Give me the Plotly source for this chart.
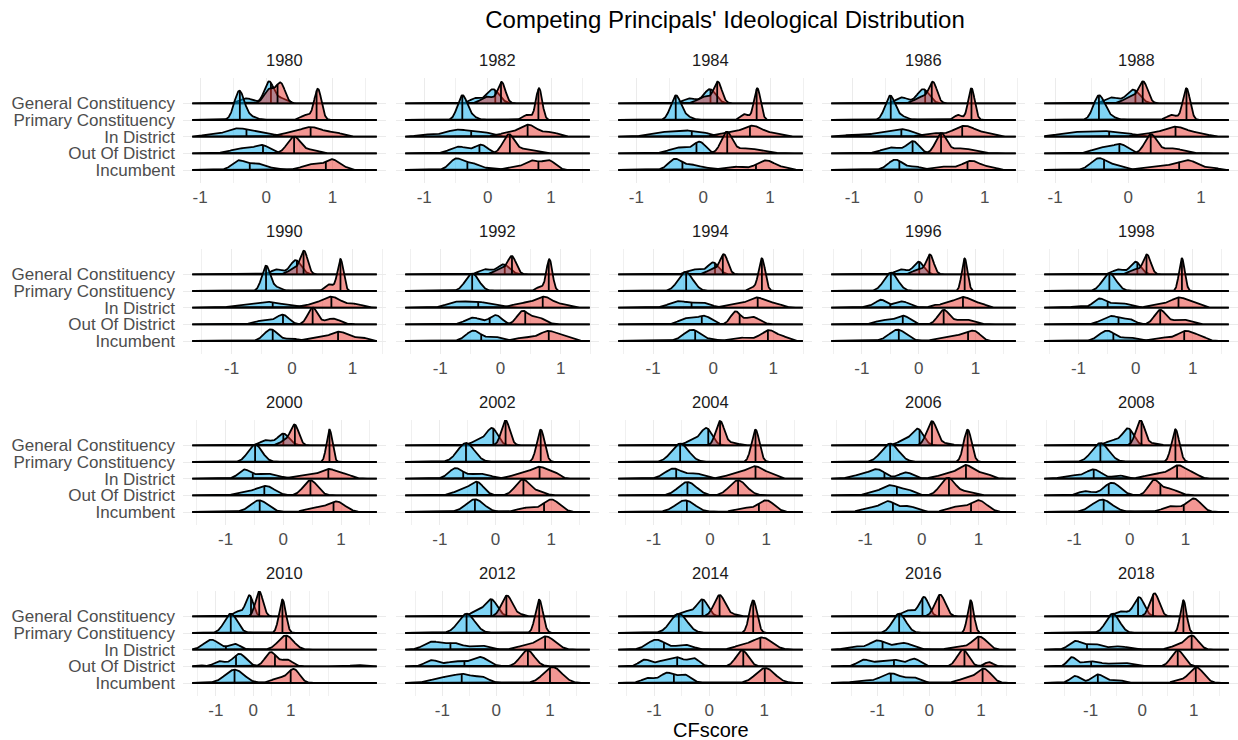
import numpy as np
import plotly.graph_objects as go

# ---------------------------------------------------------------- data
years = [1980, 1982, 1984, 1986, 1988, 1990, 1992, 1994, 1996, 1998,
         2000, 2002, 2004, 2006, 2008, 2010, 2012, 2014, 2016, 2018]

categories = ["General Constituency", "Primary Constituency", "In District",
              "Out Of District", "Incumbent"]

# CFscore span covered by the ridges in each year's panel
x_extent = [(-1.12, 1.67), (-1.30, 1.61), (-1.27, 1.49), (-1.32, 1.47), (-1.15, 1.38),
            (-1.65, 1.40), (-1.58, 1.48), (-1.58, 1.49), (-1.54, 1.71), (-1.60, 1.63),
            (-1.58, 1.62), (-1.62, 1.69), (-1.63, 1.65), (-1.60, 1.66), (-1.54, 1.78),
            (-1.63, 3.30), (-1.69, 1.74), (-1.65, 1.70), (-1.89, 1.67), (-1.90, 1.68)]

# Density bumps per year: (centre, spread, height in ridge units)
general_dem = [
    [(-0.3, 0.1, 0.3), (0.04, 0.07, 1.3), (0.22, 0.08, 0.3)],
    [(-0.2, 0.08, 0.3), (0.08, 0.1, 0.85)],
    [(-0.2, 0.09, 0.3), (0.1, 0.09, 0.85)],
    [(-0.25, 0.09, 0.35), (0.07, 0.09, 0.85)],
    [(-0.22, 0.09, 0.35), (0.07, 0.09, 0.82)],
    [(-0.25, 0.09, 0.3), (0.06, 0.09, 0.85)],
    [(-0.25, 0.1, 0.3), (0.05, 0.1, 0.6)],
    [(-0.3, 0.12, 0.3), (0.0, 0.09, 0.7)],
    [(-0.3, 0.1, 0.3), (0.0, 0.09, 0.75)],
    [(-0.3, 0.1, 0.3), (0.0, 0.09, 0.75)],
    [(-0.3, 0.1, 0.3), (0.0, 0.1, 0.7)],
    [(-0.3, 0.12, 0.3), (-0.06, 0.1, 1.0)],
    [(-0.3, 0.12, 0.3), (-0.06, 0.1, 1.0)],
    [(-0.3, 0.12, 0.3), (-0.07, 0.1, 0.95)],
    [(-0.3, 0.12, 0.3), (-0.03, 0.1, 1.0)],
    [(-0.4, 0.12, 0.3), (-0.1, 0.1, 1.25)],
    [(-0.35, 0.12, 0.3), (-0.09, 0.11, 1.0)],
    [(-0.4, 0.12, 0.3), (-0.12, 0.1, 1.0)],
    [(-0.4, 0.12, 0.35), (-0.1, 0.09, 1.15)],
    [(-0.4, 0.12, 0.3), (-0.06, 0.1, 1.15)],
]
general_rep = [
    [(0.05, 0.08, 0.85), (0.22, 0.065, 1.15)],
    [(0.0, 0.1, 0.4), (0.22, 0.06, 1.25)],
    [(0.02, 0.1, 0.4), (0.22, 0.06, 1.25)],
    [(0.05, 0.1, 0.4), (0.22, 0.06, 1.2)],
    [(0.05, 0.1, 0.4), (0.21, 0.06, 1.2)],
    [(0.05, 0.1, 0.35), (0.2, 0.06, 1.3)],
    [(0.0, 0.1, 0.3), (0.19, 0.07, 1.05)],
    [(0.0, 0.1, 0.3), (0.18, 0.065, 1.15)],
    [(0.0, 0.1, 0.3), (0.2, 0.065, 1.15)],
    [(0.0, 0.1, 0.3), (0.2, 0.065, 1.15)],
    [(0.05, 0.1, 0.3), (0.2, 0.07, 1.15)],
    [(0.18, 0.075, 1.5)],
    [(0.18, 0.075, 1.45), (0.4, 0.1, 0.15)],
    [(0.18, 0.09, 1.45), (0.45, 0.08, 0.1)],
    [(0.19, 0.08, 1.5), (0.45, 0.08, 0.12)],
    [(0.16, 0.1, 1.5)],
    [(0.2, 0.1, 1.25), (0.45, 0.08, 0.1)],
    [(0.19, 0.1, 1.28), (0.45, 0.08, 0.1)],
    [(0.21, 0.1, 1.3)],
    [(0.24, 0.09, 1.38)],
]
primary_dem = [
    [(-0.41, 0.075, 1.7), (-0.25, 0.1, 0.2)],
    [(-0.4, 0.075, 1.45), (-0.25, 0.08, 0.2)],
    [(-0.41, 0.075, 1.45), (-0.25, 0.08, 0.2)],
    [(-0.43, 0.075, 1.45), (-0.25, 0.08, 0.2)],
    [(-0.4, 0.075, 1.45), (-0.25, 0.08, 0.2)],
    [(-0.43, 0.07, 1.5), (-0.25, 0.08, 0.2)],
    [(-0.47, 0.11, 1.05)],
    [(-0.46, 0.12, 1.15)],
    [(-0.49, 0.12, 1.1)],
    [(-0.46, 0.12, 1.05)],
    [(-0.49, 0.12, 1.05)],
    [(-0.53, 0.15, 1.14)],
    [(-0.53, 0.15, 1.1)],
    [(-0.56, 0.15, 1.1)],
    [(-0.53, 0.15, 1.14)],
    [(-0.6, 0.17, 1.16)],
    [(-0.55, 0.15, 1.16)],
    [(-0.55, 0.15, 1.16)],
    [(-0.58, 0.13, 1.16)],
    [(-0.57, 0.13, 1.16)],
]
primary_rep = [
    [(0.78, 0.055, 1.85), (0.6, 0.08, 0.3)],
    [(0.81, 0.05, 1.9), (0.62, 0.07, 0.3)],
    [(0.81, 0.05, 1.9), (0.62, 0.06, 0.35)],
    [(0.8, 0.05, 1.9), (0.6, 0.06, 0.3)],
    [(0.8, 0.05, 1.9), (0.6, 0.07, 0.3)],
    [(0.8, 0.05, 1.9), (0.62, 0.07, 0.4)],
    [(0.81, 0.05, 1.9), (0.65, 0.06, 0.25)],
    [(0.81, 0.055, 1.95), (0.65, 0.06, 0.2)],
    [(0.81, 0.05, 1.95)],
    [(0.81, 0.05, 1.95)],
    [(0.8, 0.05, 1.95)],
    [(0.81, 0.07, 1.94)],
    [(0.81, 0.07, 1.94)],
    [(0.81, 0.07, 1.94)],
    [(0.82, 0.07, 1.96)],
    [(0.78, 0.09, 2.0)],
    [(0.8, 0.07, 2.0)],
    [(0.8, 0.07, 1.96)],
    [(0.8, 0.06, 1.96)],
    [(0.8, 0.06, 1.96)],
]
in_district_dem = [
    [(-0.9, 0.1, 0.08), (-0.42, 0.2, 0.5), (-0.02, 0.13, 0.2)],
    [(-1.0, 0.12, 0.12), (-0.45, 0.22, 0.42), (-0.05, 0.12, 0.2)],
    [(-0.7, 0.15, 0.2), (-0.3, 0.2, 0.38), (0.0, 0.1, 0.15)],
    [(-1.0, 0.15, 0.1), (-0.5, 0.2, 0.25), (-0.22, 0.15, 0.35)],
    [(-0.75, 0.2, 0.25), (-0.35, 0.18, 0.32), (0.0, 0.12, 0.15)],
    [(-0.85, 0.15, 0.15), (-0.43, 0.18, 0.35), (-0.05, 0.15, 0.15)],
    [(-0.75, 0.15, 0.3), (-0.4, 0.18, 0.35), (-0.05, 0.12, 0.15)],
    [(-0.58, 0.15, 0.38), (-0.2, 0.15, 0.3)],
    [(-0.85, 0.1, 0.1), (-0.66, 0.09, 0.45), (-0.3, 0.13, 0.38)],
    [(-1.0, 0.1, 0.1), (-0.64, 0.1, 0.5), (-0.3, 0.18, 0.3)],
    [(-0.68, 0.1, 0.5), (-0.3, 0.2, 0.3)],
    [(-0.72, 0.12, 0.6), (-0.3, 0.2, 0.3)],
    [(-0.65, 0.15, 0.6), (-0.25, 0.15, 0.3)],
    [(-1.1, 0.15, 0.2), (-0.79, 0.14, 0.55), (-0.28, 0.12, 0.38)],
    [(-1.05, 0.15, 0.2), (-0.65, 0.14, 0.55), (-0.2, 0.1, 0.2)],
    [(-1.12, 0.2, 0.6), (-0.5, 0.15, 0.35)],
    [(-1.2, 0.15, 0.45), (-0.8, 0.18, 0.4), (-0.3, 0.15, 0.25)],
    [(-0.96, 0.16, 0.6), (-0.45, 0.15, 0.3)],
    [(-1.45, 0.15, 0.2), (-1.0, 0.15, 0.55), (-0.5, 0.18, 0.4)],
    [(-1.3, 0.12, 0.5), (-0.95, 0.15, 0.35), (-0.45, 0.18, 0.2)],
]
in_district_rep = [
    [(0.3, 0.12, 0.15), (0.67, 0.18, 0.58), (1.05, 0.12, 0.2)],
    [(0.3, 0.15, 0.2), (0.64, 0.14, 0.7), (1.0, 0.12, 0.25)],
    [(0.35, 0.15, 0.2), (0.74, 0.16, 0.65), (1.1, 0.1, 0.15)],
    [(0.2, 0.15, 0.2), (0.7, 0.17, 0.65), (1.05, 0.1, 0.15)],
    [(0.25, 0.15, 0.15), (0.65, 0.17, 0.6), (1.0, 0.1, 0.15)],
    [(0.3, 0.15, 0.15), (0.65, 0.16, 0.65), (1.05, 0.12, 0.2)],
    [(0.35, 0.15, 0.25), (0.72, 0.15, 0.65), (1.05, 0.1, 0.15)],
    [(0.35, 0.15, 0.2), (0.73, 0.15, 0.6), (1.05, 0.1, 0.2)],
    [(0.25, 0.05, 0.1), (0.5, 0.15, 0.25), (0.8, 0.14, 0.6), (1.1, 0.1, 0.2)],
    [(0.4, 0.15, 0.2), (0.77, 0.15, 0.6), (1.05, 0.1, 0.2)],
    [(0.4, 0.2, 0.2), (0.8, 0.15, 0.55), (1.1, 0.1, 0.2)],
    [(0.5, 0.2, 0.3), (0.8, 0.14, 0.6), (1.05, 0.1, 0.3)],
    [(0.5, 0.2, 0.3), (0.82, 0.15, 0.65), (1.1, 0.1, 0.2)],
    [(0.5, 0.2, 0.3), (0.79, 0.13, 0.7), (1.1, 0.12, 0.3)],
    [(0.5, 0.2, 0.3), (0.88, 0.14, 0.75), (1.15, 0.1, 0.25)],
    [(0.87, 0.2, 0.85)],
    [(0.5, 0.15, 0.2), (0.92, 0.17, 0.8)],
    [(0.6, 0.15, 0.25), (0.97, 0.17, 0.72)],
    [(0.55, 0.15, 0.2), (0.97, 0.14, 0.78)],
    [(0.7, 0.15, 0.25), (0.97, 0.12, 0.8)],
]
out_district_dem = [
    [(-0.35, 0.18, 0.3), (-0.05, 0.11, 0.42)],
    [(-0.45, 0.14, 0.4), (-0.1, 0.1, 0.5)],
    [(-0.35, 0.15, 0.35), (-0.05, 0.09, 0.65)],
    [(-0.4, 0.15, 0.35), (-0.08, 0.09, 0.7)],
    [(-0.35, 0.13, 0.35), (-0.1, 0.1, 0.5)],
    [(-0.45, 0.15, 0.25), (-0.15, 0.1, 0.55)],
    [(-0.45, 0.13, 0.4), (-0.08, 0.1, 0.55)],
    [(-0.45, 0.12, 0.35), (-0.15, 0.12, 0.5)],
    [(-0.6, 0.15, 0.25), (-0.27, 0.12, 0.5)],
    [(-0.42, 0.16, 0.5), (-0.1, 0.1, 0.25)],
    [(-0.65, 0.15, 0.2), (-0.3, 0.15, 0.55)],
    [(-0.6, 0.15, 0.3), (-0.33, 0.12, 0.75)],
    [(-0.4, 0.16, 0.8)],
    [(-0.9, 0.1, 0.15), (-0.57, 0.15, 0.6), (-0.25, 0.12, 0.3)],
    [(-0.8, 0.12, 0.25), (-0.32, 0.15, 0.75)],
    [(-1.45, 0.08, 0.08), (-0.9, 0.15, 0.3), (-0.37, 0.18, 0.75)],
    [(-1.2, 0.12, 0.36), (-0.75, 0.18, 0.3), (-0.3, 0.15, 0.55)],
    [(-1.17, 0.1, 0.4), (-0.85, 0.12, 0.3), (-0.58, 0.12, 0.52), (-0.28, 0.1, 0.48)],
    [(-1.26, 0.12, 0.4), (-0.95, 0.12, 0.25), (-0.68, 0.14, 0.38), (-0.29, 0.12, 0.45)],
    [(-1.37, 0.08, 0.5), (-1.0, 0.2, 0.3), (-0.4, 0.2, 0.22)],
]
out_district_rep = [
    [(0.42, 0.1, 1.0), (0.7, 0.1, 0.2)],
    [(0.33, 0.09, 1.1), (0.6, 0.15, 0.25)],
    [(0.35, 0.08, 1.2), (0.65, 0.2, 0.3)],
    [(0.34, 0.08, 1.15), (0.65, 0.18, 0.3)],
    [(0.31, 0.08, 1.1), (0.6, 0.15, 0.3)],
    [(0.34, 0.08, 1.0), (0.67, 0.12, 0.35)],
    [(0.36, 0.09, 0.75), (0.6, 0.12, 0.45)],
    [(0.37, 0.08, 0.75), (0.65, 0.12, 0.45)],
    [(0.44, 0.1, 0.85), (0.8, 0.15, 0.3)],
    [(0.43, 0.1, 0.85), (0.8, 0.15, 0.3)],
    [(0.47, 0.12, 0.9)],
    [(0.49, 0.13, 0.95), (0.8, 0.1, 0.2)],
    [(0.5, 0.15, 0.9)],
    [(0.46, 0.13, 1.05), (0.8, 0.12, 0.2)],
    [(0.43, 0.1, 0.85), (0.7, 0.15, 0.4)],
    [(0.47, 0.15, 0.85), (0.9, 0.15, 0.4), (2.8, 0.2, 0.08)],
    [(0.58, 0.13, 0.96)],
    [(0.6, 0.11, 0.96)],
    [(0.65, 0.11, 1.0), (1.15, 0.08, 0.25)],
    [(0.69, 0.12, 0.96)],
]
incumbent_dem = [
    [(-0.42, 0.1, 0.55), (-0.15, 0.12, 0.4), (0.1, 0.06, 0.08)],
    [(-0.5, 0.1, 0.65), (-0.25, 0.12, 0.4), (0.05, 0.08, 0.1)],
    [(-0.42, 0.1, 0.65), (-0.15, 0.12, 0.3), (0.1, 0.08, 0.08)],
    [(-0.35, 0.11, 0.62), (-0.05, 0.1, 0.2)],
    [(-0.4, 0.11, 0.7), (-0.15, 0.1, 0.25)],
    [(-0.35, 0.11, 0.7), (0.0, 0.1, 0.15)],
    [(-0.45, 0.12, 0.62), (-0.1, 0.12, 0.25)],
    [(-0.35, 0.14, 0.68), (0.0, 0.08, 0.1)],
    [(-0.37, 0.15, 0.68)],
    [(-0.5, 0.14, 0.62), (-0.1, 0.12, 0.2)],
    [(-0.42, 0.15, 0.7)],
    [(-0.37, 0.16, 0.76)],
    [(-0.44, 0.17, 0.7)],
    [(-0.9, 0.15, 0.25), (-0.6, 0.12, 0.6), (-0.25, 0.15, 0.35)],
    [(-0.5, 0.18, 0.74)],
    [(-0.5, 0.25, 0.8)],
    [(-1.0, 0.2, 0.3), (-0.6, 0.18, 0.5), (-0.25, 0.12, 0.3)],
    [(-1.1, 0.12, 0.3), (-0.76, 0.12, 0.6), (-0.45, 0.12, 0.5)],
    [(-1.3, 0.15, 0.15), (-0.74, 0.2, 0.58), (-0.3, 0.12, 0.3)],
    [(-1.3, 0.1, 0.42), (-0.86, 0.12, 0.52), (-0.5, 0.12, 0.2)],
]
incumbent_rep = [
    [(0.7, 0.15, 0.35), (1.0, 0.1, 0.6), (1.2, 0.06, 0.1)],
    [(0.4, 0.12, 0.15), (0.7, 0.12, 0.55), (0.97, 0.1, 0.55)],
    [(0.45, 0.15, 0.2), (0.94, 0.14, 0.58), (1.25, 0.08, 0.1)],
    [(0.35, 0.15, 0.2), (0.8, 0.14, 0.55), (1.1, 0.08, 0.15)],
    [(0.3, 0.15, 0.15), (0.65, 0.15, 0.3), (0.85, 0.12, 0.45), (1.15, 0.08, 0.15)],
    [(0.4, 0.15, 0.2), (0.78, 0.15, 0.55), (1.15, 0.1, 0.2)],
    [(0.4, 0.15, 0.2), (0.8, 0.15, 0.6), (1.1, 0.1, 0.2)],
    [(0.45, 0.15, 0.2), (0.93, 0.14, 0.65), (1.2, 0.08, 0.15)],
    [(0.45, 0.15, 0.2), (0.8, 0.14, 0.4), (1.0, 0.1, 0.45)],
    [(0.45, 0.15, 0.2), (0.88, 0.15, 0.6), (1.15, 0.1, 0.2)],
    [(0.55, 0.15, 0.25), (0.92, 0.15, 0.62)],
    [(0.55, 0.15, 0.25), (1.0, 0.15, 0.75)],
    [(0.6, 0.15, 0.25), (1.0, 0.14, 0.7)],
    [(0.6, 0.15, 0.3), (1.0, 0.15, 0.7)],
    [(0.75, 0.15, 0.35), (1.15, 0.13, 0.8)],
    [(0.7, 0.2, 0.3), (1.09, 0.15, 0.8)],
    [(1.05, 0.17, 0.96)],
    [(1.02, 0.17, 0.9)],
    [(0.7, 0.15, 0.25), (1.05, 0.14, 0.85)],
    [(0.7, 0.1, 0.15), (1.05, 0.14, 0.94)],
]

# medians drawn as vertical lines inside each ridge
median_general_dem = [0.07, 0.12, 0.11, 0.10, 0.10, 0.08, 0.07, 0.03, 0.01, 0.03,
                      0.00, -0.04, -0.03, -0.04, 0.01, -0.06, -0.09, -0.12, -0.13, -0.08]
median_general_rep = [0.17, 0.21, 0.21, 0.20, 0.20, 0.19, 0.19, 0.16, 0.19, 0.19,
                      0.20, 0.18, 0.18, 0.18, 0.21, 0.16, 0.19, 0.19, 0.19, 0.21]
median_primary_dem = [-0.40, -0.40, -0.41, -0.42, -0.40, -0.43, -0.47, -0.45, -0.49, -0.46,
                      -0.49, -0.53, -0.53, -0.56, -0.53, -0.60, -0.55, -0.55, -0.58, -0.57]
median_primary_rep = [0.76, 0.80, 0.80, 0.80, 0.80, 0.80, 0.80, 0.81, 0.81, 0.81,
                      0.80, 0.81, 0.81, 0.81, 0.82, 0.78, 0.80, 0.80, 0.80, 0.80]
median_in_district_dem = [-0.30, -0.26, -0.17, -0.26, -0.26, -0.32, -0.37, -0.36, -0.50, -0.49,
                          -0.53, -0.58, -0.60, -0.66, -0.65, -0.73, -0.85, -0.82, -0.90, -1.07]
median_in_district_rep = [0.67, 0.63, 0.70, 0.66, 0.65, 0.65, 0.70, 0.74, 0.78, 0.75,
                          0.78, 0.79, 0.81, 0.78, 0.85, 0.88, 0.91, 0.93, 0.95, 0.96]
median_out_district_dem = [-0.05, -0.13, -0.10, -0.09, -0.12, -0.15, -0.18, -0.19, -0.28, -0.30,
                           -0.33, -0.33, -0.40, -0.44, -0.38, -0.46, -0.59, -0.58, -0.68, -0.99]
median_out_district_rep = [0.42, 0.35, 0.36, 0.34, 0.31, 0.34, 0.41, 0.44, 0.44, 0.43,
                           0.47, 0.50, 0.50, 0.48, 0.55, 0.58, 0.59, 0.62, 0.68, 0.69]
median_incumbent_dem = [-0.25, -0.32, -0.31, -0.29, -0.33, -0.32, -0.32, -0.30, -0.35, -0.39,
                        -0.41, -0.37, -0.41, -0.51, -0.47, -0.50, -0.64, -0.64, -0.74, -0.86]
median_incumbent_rep = [0.90, 0.80, 0.79, 0.74, 0.70, 0.76, 0.80, 0.91, 0.87, 0.85,
                        0.87, 0.87, 0.87, 0.87, 0.97, 1.00, 1.00, 1.01, 1.03, 1.04]

# ---------------------------------------------------------------- styling
FONT = "Liberation Sans, Arial, sans-serif"
DEM_FILL = "rgba(0,170,235,0.5)"
REP_FILL = "rgba(232,48,40,0.5)"
GRID = "#ebebeb"
LINE_W = 1.8
W, H = 1238, 740
PANEL_W, PANEL_H = 203, 105
COL_LEFT = [183 + 213 * c for c in range(5)]
ROW_TOP = [78 + 171 * r for r in range(4)]
Y_RANGE = [0.22, 6.52]

ridges_dem = [general_dem, primary_dem, in_district_dem, out_district_dem, incumbent_dem]
ridges_rep = [general_rep, primary_rep, in_district_rep, out_district_rep, incumbent_rep]
medians_dem = [median_general_dem, median_primary_dem, median_in_district_dem,
               median_out_district_dem, median_incumbent_dem]
medians_rep = [median_general_rep, median_primary_rep, median_in_district_rep,
               median_out_district_rep, median_incumbent_rep]


def density(grid, bumps):
    out = np.zeros_like(grid)
    for mu, s, h in bumps:
        out += h * np.exp(-0.5 * ((grid - mu) / s) ** 2)
    return out


fig = go.Figure()
annotations = []

for i, year in enumerate(years):
    row, col = divmod(i, 5)
    ax = "" if i == 0 else str(i + 1)
    xa, ya = "x" + ax, "y" + ax
    lo, hi = x_extent[i]
    grid = np.linspace(lo, hi, 600)

    for k in range(len(categories)):
        base = len(categories) - k  # General at top, Incumbent at bottom
        for bumps, meds, fill in ((ridges_dem[k], medians_dem[k], DEM_FILL),
                                  (ridges_rep[k], medians_rep[k], REP_FILL)):
            d = density(grid, bumps[i])
            fig.add_trace(go.Scatter(
                x=np.concatenate([grid, grid[::-1]]),
                y=np.concatenate([base + d, np.full(grid.size, base)]),
                mode="lines", fill="toself", fillcolor=fill,
                line=dict(color="black", width=LINE_W),
                xaxis=xa, yaxis=ya, hoverinfo="skip", showlegend=False))
            m = meds[i]
            fig.add_trace(go.Scatter(
                x=[m, m], y=[base, base + float(np.interp(m, grid, d))],
                mode="lines", line=dict(color="black", width=LINE_W),
                xaxis=xa, yaxis=ya, hoverinfo="skip", showlegend=False))

    pad = 0.05 * (hi - lo)
    x0 = COL_LEFT[col] / W
    x1 = (COL_LEFT[col] + PANEL_W) / W
    y1 = 1 - ROW_TOP[row] / H
    y0 = 1 - (ROW_TOP[row] + PANEL_H) / H

    fig.layout["xaxis" + ax] = dict(
        domain=[x0, x1], range=[lo - pad, hi + pad], anchor=ya,
        tickvals=[-1, 0, 1], ticktext=["-1", "0", "1"], ticks="",
        showgrid=True, gridcolor=GRID, gridwidth=1.1, zeroline=False, showline=False,
        tickfont=dict(family=FONT, size=17, color="#4d4d4d"), ticklabelstandoff=2,
        minor=dict(tickvals=[-1.5, -0.5, 0.5, 1.5, 2.0], showgrid=True,
                   gridcolor="#f0f0f0", gridwidth=1, ticks=""),
        fixedrange=True)
    fig.layout["yaxis" + ax] = dict(
        domain=[y0, y1], range=Y_RANGE, anchor=xa,
        tickvals=[5, 4, 3, 2, 1], ticktext=categories, ticks="",
        showticklabels=(col == 0), showgrid=True, gridcolor=GRID, gridwidth=1.1,
        zeroline=False, showline=False, ticklabelstandoff=7,
        tickfont=dict(family=FONT, size=17, color="#4d4d4d"), fixedrange=True)

    annotations.append(dict(
        text=str(year), xref="paper", yref="paper",
        x=(COL_LEFT[col] + PANEL_W / 2) / W, y=1 - (ROW_TOP[row] - 18) / H,
        xanchor="center", yanchor="middle", showarrow=False,
        font=dict(family=FONT, size=16.5, color="#1a1a1a")))

annotations.append(dict(
    text="CFscore", xref="paper", yref="paper", x=711 / W, y=1 - 730 / H,
    xanchor="center", yanchor="middle", showarrow=False,
    font=dict(family=FONT, size=20, color="black")))

fig.update_layout(
    width=W, height=H, margin=dict(l=0, r=0, t=0, b=0),
    paper_bgcolor="white", plot_bgcolor="white",
    title=dict(text="Competing Principals' Ideological Distribution",
               x=725 / W, y=1 - 20 / H, xanchor="center", yanchor="middle",
               font=dict(family=FONT, size=24, color="black")),
    annotations=annotations, showlegend=False)

fig.write_html("out.html")
